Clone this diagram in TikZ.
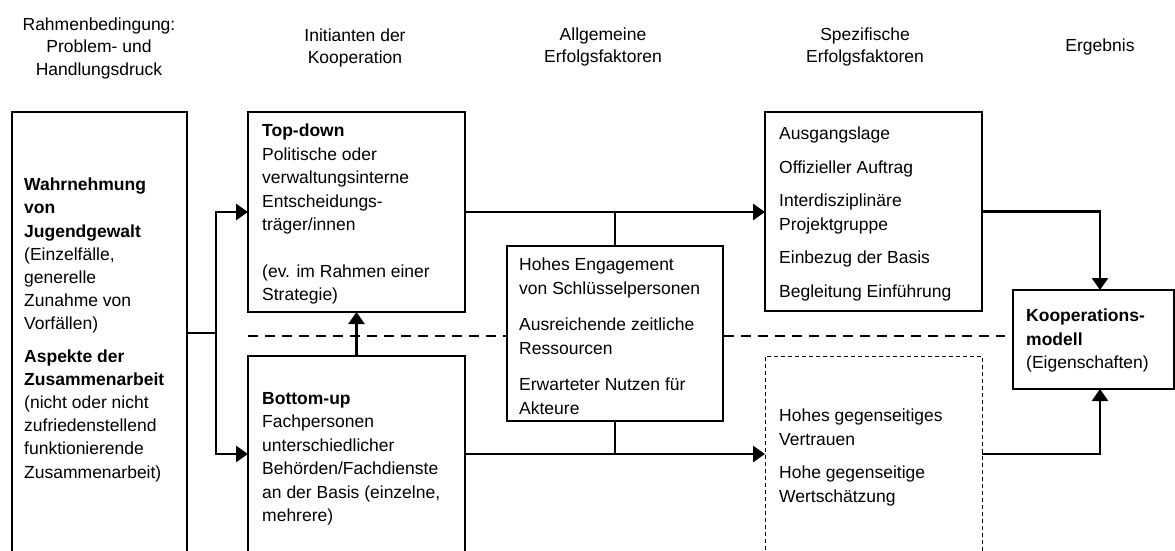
\documentclass[tikz,border=0pt]{standalone}
\usepackage{fontspec}
\setmainfont{Liberation Sans}
\usepackage{tikz}
\usetikzlibrary{arrows.meta}
\usetikzlibrary{calc}

\begin{document}
\begin{tikzpicture}[x=1pt,y=-1pt]
\tikzstyle{every node}=[font=\fontsize{17.5}{23.5}\selectfont]
\tikzstyle{head}=[align=center,font=\fontsize{17.5}{22.5}\selectfont]
\tikzstyle{box}=[draw,line width=1.1pt,fill=white,inner sep=0pt,outer sep=0pt,anchor=north west]
\tikzstyle{dashbox}=[box,line width=1pt,dash pattern=on 4pt off 3pt]
\tikzstyle{txt}=[align=left,inner sep=0pt,anchor=north west]
\tikzstyle{flow}=[line width=2.7pt]
\tikzstyle{flowarr}=[line width=2.7pt,->,>={Triangle[length=12pt,width=16pt]}]
\tikzstyle{divider}=[line width=2.7pt,dash pattern=on 10pt off 7pt]
\useasboundingbox (0,0) rectangle (1175,551);

\node[head] (h1) at (99,48) {Rahmenbedingung:\\Problem- und\\Handlungsdruck};
\node[head] (h2) at (355,48) {Initianten der\\Kooperation};
\node[head] (h3) at (603,47) {Allgemeine\\Erfolgsfaktoren};
\node[head] (h4) at (865,47) {Spezifische\\Erfolgsfaktoren};
\node[head] (h5) at (1100,47) {Ergebnis};

\coordinate (fork) at (216,333);
\coordinate (lowrow) at (0,454);
\coordinate (divide) at (0,336);
\coordinate (outx) at (1100,0);

\node[box,minimum width=175pt,minimum height=460pt] (cond) at (12,112) {};
\node[box,minimum width=217pt,minimum height=200pt] (topd) at (248,112) {};
\node[box,minimum width=217pt,minimum height=216pt] (botu) at (248,356) {};
\node[box,minimum width=217pt,minimum height=199pt] (spec) at (765,112) {};
\node[dashbox,minimum width=217pt,minimum height=216pt] (trust) at (765,356) {};
\node[box,minimum width=161pt,minimum height=99pt] (result) at (1013,290) {};

\draw[divider] (botu.north west |- divide) -- ([xshift=-8pt]result.west |- divide);

\node[box,minimum width=216pt,minimum height=175pt] (general) at (507,246) {};

\draw[flow] (fork -| cond.east) -- (fork);
\draw[flowarr] (fork) |- (topd.west);
\draw[flowarr] (fork) |- (botu.west |- lowrow);
\draw[flowarr] (botu.north) -- (topd.south);
\draw[flowarr] (topd.east) -- (spec.west |- topd.east);
\draw[flow] (general.north) -- (general.north |- topd.east);
\draw[flowarr] (botu.east |- lowrow) -- (trust.west |- lowrow);
\draw[flow] (general.south) -- (general.south |- lowrow);
\draw[flowarr] (spec.east) -| (outx |- result.north);
\draw[flowarr] (trust.east |- lowrow) -| (outx |- result.south);

\node[txt,font=\fontsize{17.5}{23.1}\selectfont] (condtext) at (24,178) {\textbf{Wahrnehmung}\\\textbf{von}\\\textbf{Jugendgewalt}\\(Einzelfälle,\\generelle\\Zunahme von\\Vorfällen)\\[10pt]\textbf{Aspekte der}\\\textbf{Zusammenarbeit}\\(nicht oder nicht\\zufriedenstellend\\funktionierende\\Zusammenarbeit)};
\node[txt] (topdtext) at (262,124) {\textbf{Top-down}\\Politische oder\\verwaltungsinterne\\Entscheidungs-\\träger/innen\\[23pt](ev. im Rahmen einer\\Strategie)};
\node[txt] (botutext) at (262,392) {\textbf{Bottom-up}\\Fachpersonen\\unterschiedlicher\\Behörden/Fachdienste\\an der Basis (einzelne,\\mehrere)};
\node[txt] (generaltext) at (519,258) {Hohes Engagement\\von Schlüsselpersonen\\[13pt]Ausreichende zeitliche\\Ressourcen\\[13pt]Erwarteter Nutzen für\\Akteure};
\node[txt] (spectext) at (779,127) {Ausgangslage\\[10pt]Offizieller Auftrag\\[10pt]Interdisziplinäre\\Projektgruppe\\[10pt]Einbezug der Basis\\[10pt]Begleitung Einführung};
\node[txt] (trusttext) at (779,409) {Hohes gegenseitiges\\Vertrauen\\[10pt]Hohe gegenseitige\\Wertschätzung};
\node[txt] (resulttext) at (1026,309) {\textbf{Kooperations-}\\\textbf{modell}\\(Eigenschaften)};
\end{tikzpicture}
\end{document}
